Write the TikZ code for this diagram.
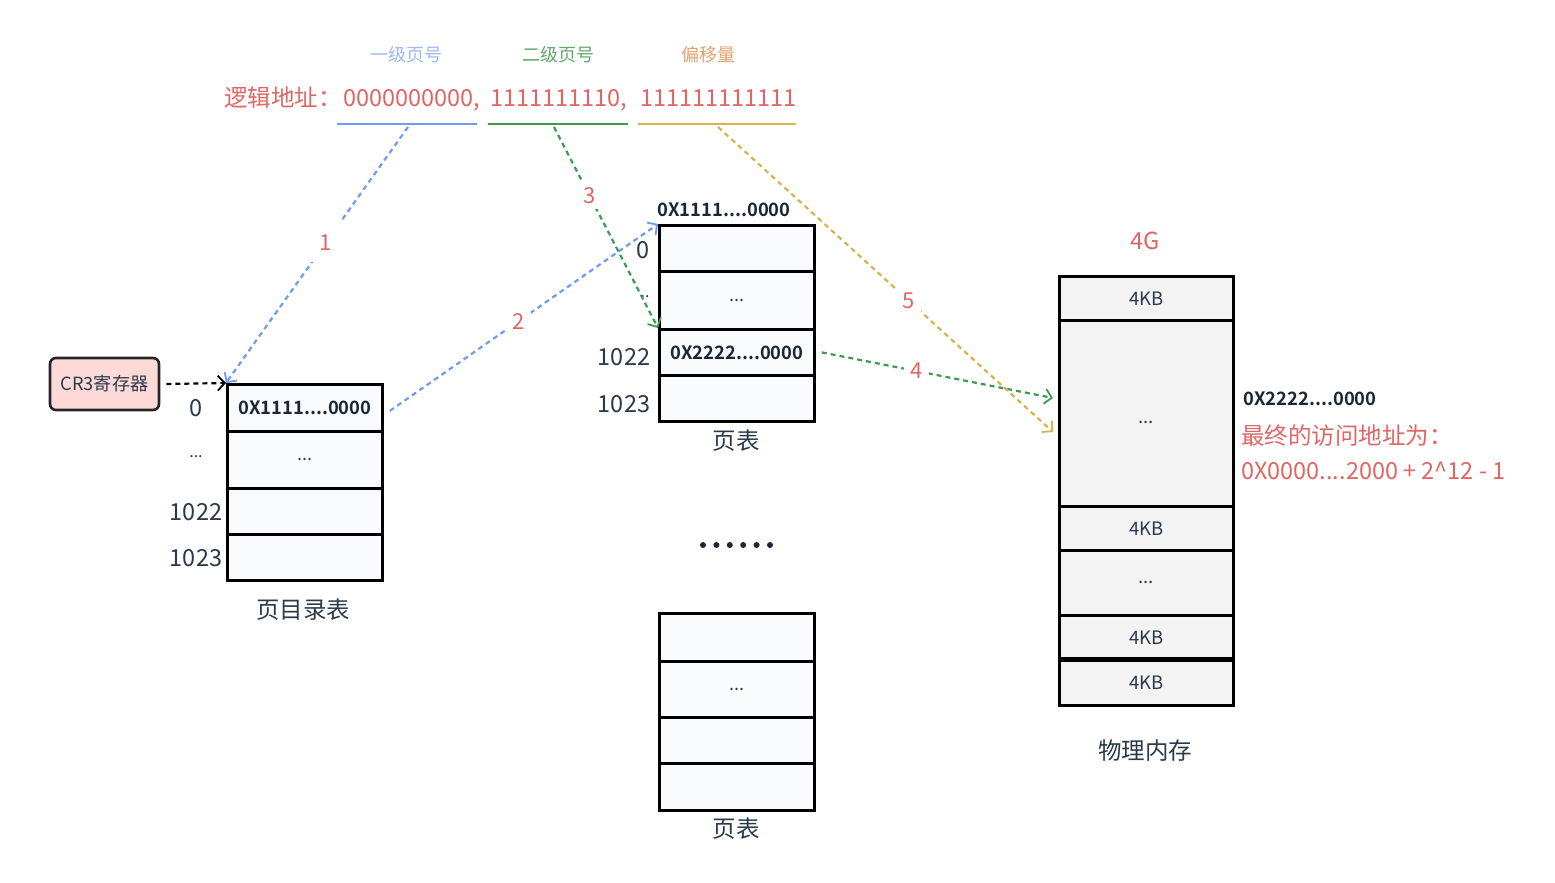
\documentclass[tikz,border=0pt]{standalone}
\usepackage{fontspec}
\setmainfont{Noto Sans CJK SC}[BoldFont={Noto Sans CJK SC Bold}]
\usetikzlibrary{arrows.meta,calc}
\definecolor{txt}{HTML}{2B3A4B}
\definecolor{navy}{HTML}{1B2637}
\definecolor{redt}{HTML}{E06666}
\definecolor{blueL}{HTML}{6F9BF2}
\definecolor{blueT}{HTML}{9DB9F5}
\definecolor{greenL}{HTML}{3E9A50}
\definecolor{greenT}{HTML}{5EA868}
\definecolor{yellowL}{HTML}{D8B24A}
\definecolor{orangeT}{HTML}{E3A26F}
\definecolor{cellfill}{HTML}{FAFBFC}
\definecolor{memfill}{HTML}{F3F3F3}
\definecolor{crfill}{HTML}{FDDAD8}
\newcommand{\fsz}[2]{\fontsize{#1}{#2}\selectfont}
\tikzset{
  cell/.style={draw=black, line width=2.8pt, fill=cellfill, minimum width=155pt, inner sep=0pt, anchor=north west, text=txt, font=\fsz{18}{21}},
  memcell/.style={cell, fill=memfill, minimum width=174pt, font=\fsz{18.5}{22}},
  hexb/.style={font=\fsz{18.4}{22}\bfseries, text=navy},
  lbl/.style={text=txt, font=\fsz{23.5}{27}, inner sep=0pt},
  num/.style={text=redt, fill=white, font=\fsz{22}{26}, inner sep=6pt},
  arr/.style={dash pattern=on 5pt off 4pt, line width=2.2pt, -{Straight Barb[length=7pt,width=15pt,line width=1.8pt]}},
  seg/.style={anchor=base west, inner sep=0pt, text=redt, font=\fsz{23.5}{27}},
  head/.style={inner sep=0pt, font=\fsz{18}{21}}
}
\begin{document}
\begin{tikzpicture}[x=1pt,y=-1pt]
\useasboundingbox[fill=white] (0,0) rectangle (1555,883);

% top labels
\node[head, text=blueT] (h1) at (406,55) {一级页号};
\node[head, text=greenT] (h2) at (558,55) {二级页号};
\node[head, text=orangeT] (h3) at (708,55) {偏移量};

\node[seg] (la0) at (224,106) {逻辑地址：};
\node[seg] (la1) at (343,106) {0000000000,};
\node[seg] (la2) at (490,106) {1111111110,};
\node[seg] (la3) at (640,106) {111111111111};

\coordinate (u1a) at (337,124); \coordinate (u1b) at (477,124);
\coordinate (u2a) at (488,124); \coordinate (u2b) at (628,124);
\coordinate (u3a) at (638,124); \coordinate (u3b) at (796,124);
\draw[blueL, line width=2.6pt] (u1a) -- (u1b);
\draw[greenL, line width=2.6pt] (u2a) -- (u2b);
\draw[yellowL, line width=2.6pt] (u3a) -- (u3b);
\coordinate (s1) at (408,127);
\coordinate (s3) at (554,127);
\coordinate (s5) at (718,127);

% CR3
\node[draw=black!85, line width=2.6pt, rounded corners=6pt, fill=crfill, minimum width=109pt, minimum height=52pt, inner sep=0pt, text=txt, font=\fsz{18.2}{21}] (cr3) at (104.5,384) {CR3寄存器};

% page directory
\node[cell, minimum height=47pt] (pd0) at (226,383) {\bfseries\color{navy}\fsz{18.4}{22}0X1111....0000};
\node[cell, minimum height=57pt] (pd1) at (226,430) {...};
\node[cell, minimum height=46pt] (pd2) at (226,487) {};
\node[cell, minimum height=46pt] (pd3) at (226,533) {};
\node[lbl] (pdl0) at (196,408) {0};
\node[lbl, font=\fsz{16}{18}] (pdl1) at (196,457) {...};
\node[lbl] (pdl2) at (196,512) {1022};
\node[lbl] (pdl3) at (196,558) {1023};
\node[lbl] (pdt) at (303,610) {页目录表};

% page table 1
\node[cell, minimum height=46pt] (pt0) at (658,224) {};
\node[cell, minimum height=58pt] (pt1) at (658,270) {...};
\node[cell, minimum height=46pt] (pt2) at (658,328) {\bfseries\color{navy}\fsz{18.4}{22}0X2222....0000};
\node[cell, minimum height=46pt] (pt3) at (658,374) {};
\node[hexb] (pth) at (724,210) {0X1111....0000};
\node[lbl] (ptl0) at (643,250) {0};
\node[lbl, font=\fsz{16}{18}] (ptl1) at (645,297) {..};
\node[lbl] (ptl2) at (624,357) {1022};
\node[lbl] (ptl3) at (624,404) {1023};
\node[lbl] (ptt) at (736,441) {页表};

% dots
\foreach \i in {0,...,5} \fill[navy] (703+13.4*\i,545) circle (3pt);

% page table 2
\node[cell, minimum height=48pt] (pq0) at (658,612) {};
\node[cell, minimum height=56pt] (pq1) at (658,660) {...};
\node[cell, minimum height=46pt] (pq2) at (658,716) {};
\node[cell, minimum height=47pt] (pq3) at (658,762) {};
\node[lbl] (pqt) at (736,829) {页表};

% physical memory
\node[memcell, minimum height=44pt] (m0) at (1058,275) {4KB};
\node[memcell, minimum height=186pt] (m1) at (1058,319) {\raisebox{-10pt}[0pt][0pt]{...}};
\node[memcell, minimum height=44pt] (m2) at (1058,505) {4KB};
\node[memcell, minimum height=65pt] (m3) at (1058,549) {...};
\node[memcell, minimum height=45pt] (m4) at (1058,614) {4KB};
\node[memcell, minimum height=45pt] (m5) at (1058,659) {4KB};
\draw[line width=3.8pt] (m5.north west) -- (m5.north east);
\node[lbl, text=redt] (g4) at (1145,241) {4G};
\node[lbl] (pm) at (1145,751) {物理内存};
\node[hexb, anchor=west] (mh) at (1240,399) {0X2222....0000};
\node[lbl, anchor=west, text=redt, font=\fsz{23.5}{27}] (fin1) at (1241,436) {最终的访问地址为：};
\node[lbl, anchor=west, text=redt, font=\fsz{23.5}{27}] (fin2) at (1241,471) {0X0000....2000 + 2\textasciicircum 12 - 1};

\coordinate (e4) at ($(m1.north west)+(-5,79)$);
\coordinate (e5) at ($(m1.north west)+(-5,113)$);

% arrows
\draw[arr, black] ([xshift=6pt]cr3.east) -- (pd0.north west);
\draw[arr, blueL] (s1) -- node[num, pos=0.45, inner sep=12pt] {1} (pd0.north west);
\draw[arr, blueL] ([xshift=6pt,yshift=-3pt]pd0.east) -- node[num, pos=0.48] {2} (pt0.north west);
\draw[arr, greenL] (s3) -- node[num, pos=0.34] {3} (pt2.north west);
\draw[arr, greenL] ([xshift=6pt]pt2.east) -- node[num, pos=0.41] {4} (e4);
\draw[arr, yellowL] (s5) -- node[num, pos=0.57] {5} (e5);
\end{tikzpicture}
\end{document}
